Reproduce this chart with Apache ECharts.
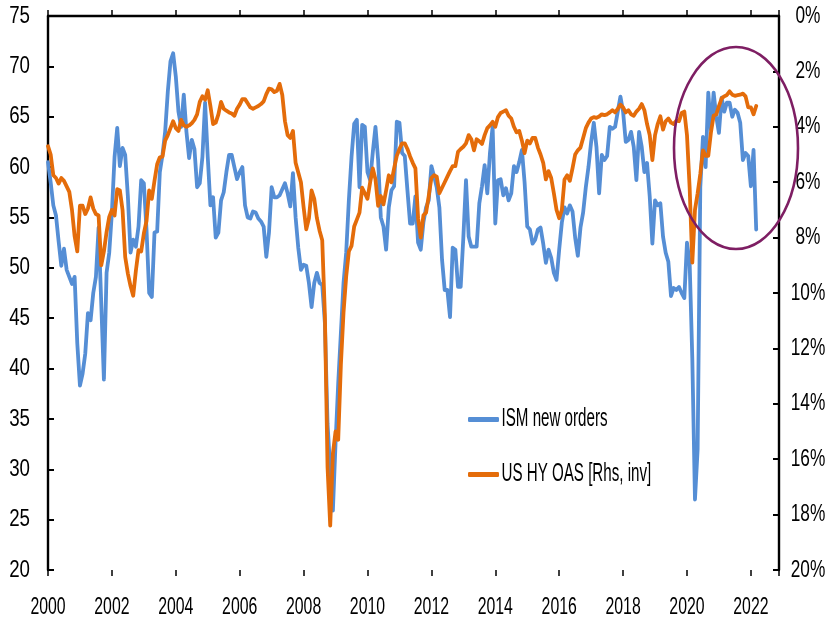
<!DOCTYPE html>
<html>
<head>
<meta charset="utf-8">
<script src="https://cdn.jsdelivr.net/npm/echarts@6/dist/echarts.min.js"></script>
<style>
html,body{margin:0;padding:0;background:#fff;overflow:hidden;}
#chart{width:829px;height:619px;}
</style>
</head>
<body>
<div id="chart"></div>
<script>
// Monthly data, Jan 2000 .. Mar 2022
const startYear = 2000;
const seriesNames = ['ISM new orders', 'US HY OAS [Rhs, inv]'];
const ismNewOrders = [
  60.5, 58.5, 56.2, 55.2, 52.6, 50.2, 51.9, 49.8, 49.1, 48.4,
  49.1, 42.5, 38.3, 39.5, 41.5, 45.5, 44.8, 47.5, 49.1, 54.0,
  46.5, 38.9, 49.5, 51.5, 55.5, 61.0, 63.9, 60.1, 61.9, 61.2,
  57.1, 51.5, 52.8, 52.1, 54.1, 58.7, 58.4, 53.8, 47.5, 47.1,
  53.5, 53.6, 59.5, 61.2, 63.5, 67.5, 70.5, 71.3, 69.0, 65.5,
  64.0, 67.2, 63.5, 60.9, 62.7, 61.8, 58.0, 58.4, 61.0, 66.4,
  61.0, 56.2, 57.0, 53.0, 53.5, 56.7, 57.5, 59.5, 61.2, 61.2,
  60.0, 58.8, 59.5, 60.0, 56.2, 55.0, 54.9, 55.6, 55.5, 54.9,
  54.6, 54.1, 51.1, 53.5, 58.0, 57.0, 57.0, 57.2, 57.8, 58.4,
  57.4, 56.1, 59.4, 55.0, 52.0, 49.8, 50.3, 50.2, 48.5, 46.1,
  48.5, 49.5, 48.5, 48.3, 44.5, 34.5, 30.0, 25.9, 32.6, 38.5,
  43.5, 48.5, 51.5, 56.7, 61.0, 64.3, 64.7, 58.0, 64.2, 64.0,
  59.5, 58.7, 61.5, 64.0, 60.7, 55.0, 54.1, 51.8, 56.0, 57.7,
  58.1, 64.5, 64.4, 61.4, 61.1, 57.7, 54.4, 54.4, 57.1, 52.5,
  51.8, 54.5, 56.0, 56.7, 60.1, 59.1, 58.0, 56.0, 50.8, 47.8,
  47.8, 45.1, 52.0, 51.8, 48.1, 48.1, 53.0, 58.7, 53.1, 52.1,
  52.1, 52.1, 56.4, 58.1, 60.2, 57.4, 61.4, 64.0, 54.4, 58.7,
  58.8, 57.2, 57.9, 56.7, 57.4, 60.1, 59.5, 60.5, 61.7, 58.5,
  54.1, 53.8, 52.4, 52.8, 53.8, 54.0, 52.4, 50.5, 51.8, 51.0,
  49.5, 48.8, 51.8, 54.5, 56.0, 55.4, 56.2, 55.6, 53.0, 51.2,
  54.0, 55.5, 58.0, 60.0, 62.5, 64.4, 62.0, 57.4, 61.2, 60.7,
  61.1, 64.0, 63.8, 64.0, 65.5, 67.0, 65.5, 62.5, 62.7, 63.5,
  62.0, 58.7, 63.5, 62.0, 59.5, 60.4, 57.1, 52.4, 56.7, 56.2,
  56.4, 53.1, 51.5, 50.6, 47.2, 48.0, 47.8, 48.1, 47.5, 47.0,
  52.5, 50.5, 41.0, 27.0, 32.0, 58.0, 63.0, 60.0, 67.4, 63.7,
  67.4, 65.0, 63.4, 66.9, 65.5, 66.4, 66.4, 65.0, 65.7, 65.4,
  64.4, 60.7, 61.4, 61.1, 58.1, 61.7, 53.8
];
const hyOas = [
  4.7, 5.0, 5.75, 5.85, 6.05, 5.85, 5.95, 6.15, 6.35, 7.0,
  7.95, 8.5, 6.85, 6.85, 7.15, 6.95, 6.55, 6.95, 7.15, 7.2,
  9.0, 8.5, 7.8, 7.25, 7.0, 7.2, 6.25, 6.3, 7.0, 8.7,
  9.3, 9.75, 10.1, 9.2, 8.45, 8.5, 7.85, 7.4, 6.3, 6.6,
  5.95, 5.35, 5.1, 5.08, 4.5, 4.3, 4.05, 3.8, 4.05, 4.15,
  3.75, 3.95, 4.0, 3.95, 3.87, 3.75, 3.55, 3.1, 2.9, 3.02,
  2.68, 3.25, 3.9, 3.85, 3.55, 3.1, 3.35, 3.42, 3.48, 3.52,
  3.6, 3.35, 3.2, 3.0, 3.0, 3.15, 3.3, 3.35, 3.3, 3.25,
  3.18, 3.08, 2.82, 2.62, 2.65, 2.75, 2.7, 2.45, 2.85, 3.8,
  4.3, 4.4, 4.15, 5.3, 5.65, 6.0, 6.9, 7.7, 7.3, 6.3,
  6.6, 7.3, 7.75, 8.1, 10.8, 16.3, 18.4, 15.8, 15.0, 15.3,
  12.6, 10.7, 9.4, 8.5, 8.3, 7.6, 7.35, 7.1, 6.2, 6.4,
  6.6, 6.0, 5.5, 5.9, 6.85, 6.5, 6.8, 6.3, 5.75, 6.0,
  5.5, 5.05, 4.8, 4.6, 4.6, 4.8, 5.07, 5.3, 5.5, 7.3,
  8.0, 7.2, 7.1, 6.5, 5.85, 5.75, 5.8, 6.4, 6.2, 6.0,
  5.8, 5.6, 5.42, 5.42, 4.9, 4.8, 4.72, 4.6, 4.3, 4.45,
  4.85, 4.45, 4.52, 4.62, 4.3, 4.05, 3.95, 3.82, 4.0, 3.65,
  3.5, 3.45, 3.4, 3.6, 3.7, 4.0, 4.2, 4.15, 4.5, 4.95,
  4.5, 4.6, 4.4, 4.4, 4.75, 5.0, 5.3, 5.9, 5.6, 5.85,
  6.4, 7.0, 7.3, 7.0, 5.9, 5.75, 5.95, 5.5, 5.0, 4.85,
  4.75, 4.4, 4.05, 3.85, 3.7, 3.65, 3.68, 3.63, 3.55, 3.58,
  3.55, 3.48, 3.4, 3.48, 3.35, 3.2, 3.3, 3.48, 3.4, 3.55,
  3.6, 3.45, 3.35, 3.18, 3.4, 3.9, 4.3, 5.2, 4.3, 3.9,
  3.62, 4.1, 3.8, 3.7, 3.85, 3.9, 3.78, 3.8, 3.5, 3.45,
  4.3, 6.2, 8.9, 7.0, 6.4, 5.7, 4.85, 5.05, 5.05, 4.2,
  3.6, 3.55, 3.25, 2.98, 2.9, 2.85, 2.72, 2.84, 2.88, 2.86,
  2.84, 2.8, 2.9, 3.3, 3.3, 3.55, 3.25
];
const xAxisRange = [2000, 2022.88];
const xTickStep = 2;
const leftAxisRange = [20, 75];
const leftTickStep = 5;
const rightAxisRange = [0, 20];
const rightTickStep = 2;

// decimal-year dates of the monthly observations
const dates = ismNewOrders.map((_, i) => startYear + i / 12);
const ismData = dates.map((d, i) => [d, ismNewOrders[i]]);
const oasData = dates.slice(0, hyOas.length).map((d, i) => [d, hyOas[i]]);

const FONT = "'Liberation Sans', Arial, sans-serif";
const chart = echarts.init(document.getElementById('chart'), null, {renderer: 'canvas'});
const axisLine = {show: true, lineStyle: {color: '#000', width: 2.4}};
const xLabelFmt = v => (Math.abs(v - Math.round(v)) < 1e-6 && Math.round(v) % 2 === 0 && v <= 2022) ? String(Math.round(v)) : '';

chart.setOption({
  animation: false,
  backgroundColor: '#fff',
  grid: {left: 48, right: 50, top: 16, bottom: 49, containLabel: false, outerBoundsMode: 'none'},
  legend: {
    orient: 'vertical', left: 463, top: 402, itemGap: 30,
    itemWidth: 31, itemHeight: 5, icon: 'roundRect',
    textStyle: {fontFamily: FONT, fontSize: 25, color: '#000', padding: [0, 0, 0, -4]},
    data: seriesNames
  },
  xAxis: [{
    type: 'value', min: xAxisRange[0], max: xAxisRange[1], interval: xTickStep,
    axisLine: axisLine, splitLine: {show: false},
    axisTick: {show: true, inside: true, length: 6, lineStyle: {color: '#000', width: 1.5}},
    axisLabel: {formatter: xLabelFmt, fontFamily: FONT, fontSize: 24, color: '#000', margin: 25}
  }, {
    type: 'value', min: xAxisRange[0], max: xAxisRange[1], interval: xTickStep, position: 'bottom',
    axisLine: {show: false}, splitLine: {show: false},
    axisTick: {show: true, inside: false, length: 6, lineStyle: {color: '#000', width: 1.5}},
    axisLabel: {show: false}
  }],
  yAxis: [{
    type: 'value', min: leftAxisRange[0], max: leftAxisRange[1], interval: leftTickStep, position: 'left',
    axisLine: axisLine, splitLine: {show: false},
    axisTick: {show: true, inside: true, length: 6, lineStyle: {color: '#000', width: 2}},
    axisLabel: {fontFamily: FONT, fontSize: 24, color: '#000', margin: 18}
  }, {
    type: 'value', min: rightAxisRange[0], max: rightAxisRange[1], interval: rightTickStep, position: 'right',
    inverse: true,
    axisLine: axisLine, splitLine: {show: false},
    axisTick: {show: true, inside: true, length: 6, lineStyle: {color: '#000', width: 2}},
    axisLabel: {formatter: '{value}%', fontFamily: FONT, fontSize: 24, color: '#000', margin: 29, align: 'center'}
  }],
  series: [{
    name: seriesNames[0], type: 'line', xAxisIndex: 0, yAxisIndex: 0,
    data: ismData, showSymbol: false, symbol: 'none',
    lineStyle: {color: '#558ED5', width: 3.8, cap: 'round', join: 'round'},
    itemStyle: {color: '#558ED5'}
  }, {
    name: seriesNames[1], type: 'line', xAxisIndex: 0, yAxisIndex: 1,
    data: oasData, showSymbol: false, symbol: 'none',
    lineStyle: {color: '#E46C0A', width: 3.8, cap: 'round', join: 'round'},
    itemStyle: {color: '#E46C0A'}
  }],
  graphic: [{
    type: 'ellipse', z: 100,
    shape: {cx: 736, cy: 148, rx: 62, ry: 101},
    style: {fill: 'none', stroke: '#7E1E63', lineWidth: 2.6}
  }]
});

// The reference typeface is tall and narrow: condense the rendered text horizontally,
// keeping each text anchored at its own position
function condenseTexts() {
  const zr = chart.getZr();
  const roots = zr.storage.getRoots();
  const visit = el => {
    if (el.type === 'text' && el.style && typeof el.style.text === 'string') {
      const t = el.style.text;
      let s = null;
      if (/^\d{4}$/.test(t)) s = 0.66;          // x labels
      else if (/%$/.test(t)) s = 0.72;          // right labels
      else if (/^\d{2}$/.test(t)) s = 0.78;     // left labels
      else if (seriesNames.indexOf(t) >= 0) s = 0.605; // legend
      if (s !== null && el.scaleX !== s) {
        el.attr({originX: el.style.x || 0, originY: el.style.y || 0, scaleX: s});
      }
    }
    if (el.isGroup && el.eachChild) el.eachChild(visit);
  };
  roots.forEach(visit);
  zr.refreshImmediately();
}
condenseTexts();
chart.on('finished', condenseTexts);
</script>
</body>
</html>
